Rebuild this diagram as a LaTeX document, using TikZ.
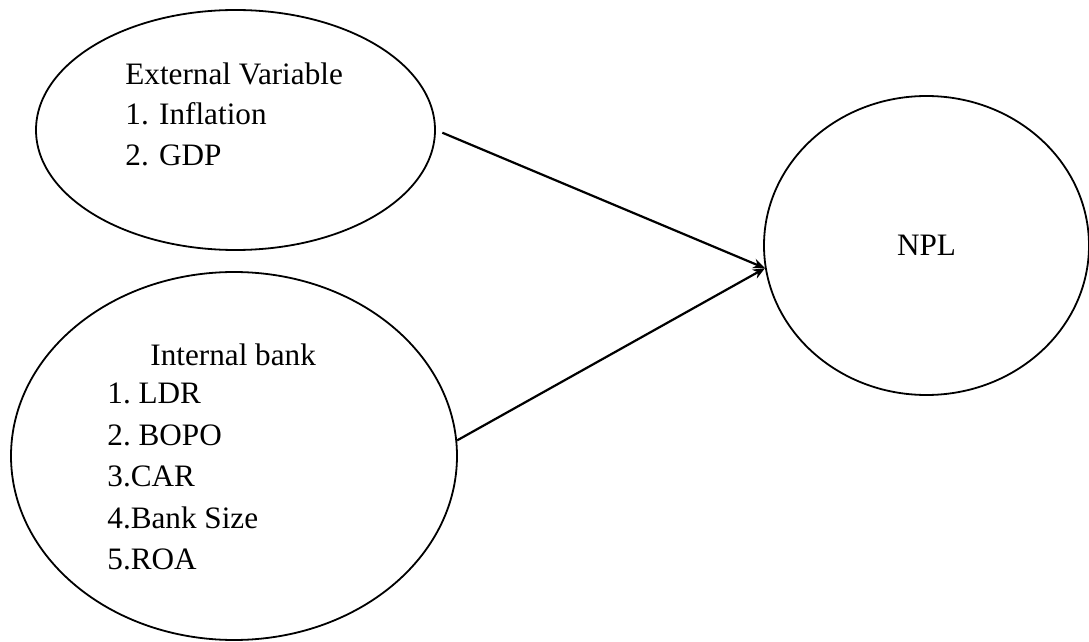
\documentclass[tikz,border=0pt]{standalone}
\usepackage{fontspec}
\setmainfont{Liberation Serif}
\usetikzlibrary{calc, shapes, arrows.meta}

\begin{document}
\begin{tikzpicture}[x=0.5pt, y=-0.5pt,
		oval/.style={draw, ellipse, line width=0.9pt, inner sep=0pt},
		txt/.style={anchor=base west, inner sep=0pt},
		link/.style={line width=1.1pt, -{Stealth[length=6pt, width=5pt]}}]
				\newcommand{\myfontlabel}[1]{%
					\fontsize{15.6}{18}\selectfont{#1}%
				}%Picture frame
				\useasboundingbox (0,0) rectangle (1089,642);
				%The three ellipses
				\node [oval, minimum width=199.5pt, minimum height=120pt] (external) at (235.5,130) {};
				\node [oval, minimum width=223pt, minimum height=184pt] (internal) at (234,456) {};
				\node [oval, minimum width=162.5pt, minimum height=149.5pt] (npl) at (926.5,245.5) {\myfontlabel{NPL}};
				%External variables
				\node [txt] (extTitle) at (125,85) {\myfontlabel{External Variable}};
				\node [txt] (extItem1) at (125,125) {\myfontlabel{1. Inflation}};
				\node [txt] (extItem2) at (125,166) {\myfontlabel{2. GDP}};
				%Internal bank variables
				\node [txt] (intTitle) at (150,365) {\myfontlabel{Internal bank}};
				\node [txt] (intItem1) at (107,403) {\myfontlabel{1.~LDR}};
				\node [txt] (intItem2) at (107,445) {\myfontlabel{2.~BOPO}};
				\node [txt] (intItem3) at (107,487) {\myfontlabel{3.CAR}};
				\node [txt] (intItem4) at (107,528) {\myfontlabel{4.Bank Size}};
				\node [txt] (intItem5) at (107,569) {\myfontlabel{5.ROA}};
				%Arrows into NPL
				\draw [link, shorten <=3.5pt] (external.east) -- (npl.188);
				\draw [link] (internal.4) -- (npl.188);
\end{tikzpicture}
\end{document}
